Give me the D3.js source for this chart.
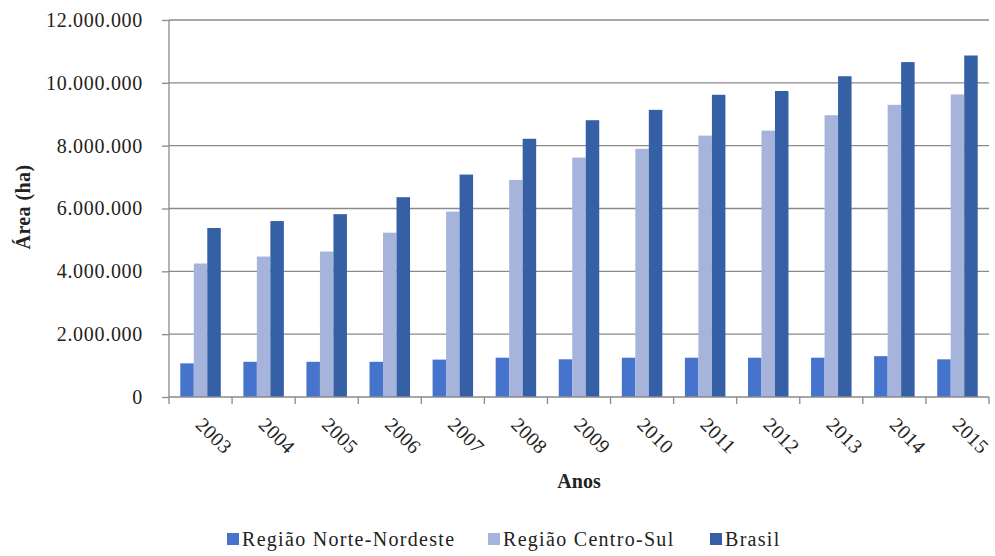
<!DOCTYPE html>
<html>
<head>
<meta charset="utf-8">
<script src="https://cdn.jsdelivr.net/npm/d3@7"></script>
<style>
  body { margin: 0; background: #fff; }
</style>
</head>
<body>
<svg width="995" height="556"></svg>
<script>
// Data
const anos = ["2003", "2004", "2005", "2006", "2007", "2008", "2009", "2010", "2011", "2012", "2013", "2014", "2015"];
const norteNordeste = [1070000, 1120000, 1120000, 1120000, 1190000, 1250000, 1200000, 1250000, 1250000, 1250000, 1250000, 1300000, 1200000];
const centroSul = [4250000, 4470000, 4630000, 5230000, 5900000, 6910000, 7620000, 7900000, 8320000, 8480000, 8970000, 9300000, 9630000];
const brasil = [5380000, 5600000, 5820000, 6360000, 7080000, 8220000, 8810000, 9140000, 9620000, 9740000, 10210000, 10660000, 10870000];
const seriesNames = ["Região Norte-Nordeste", "Região Centro-Sul", "Brasil"];
const seriesColors = ["#4673cb", "#a6b4dc", "#3560a6"];
const yTicks = [0, 2000000, 4000000, 6000000, 8000000, 10000000, 12000000];

const svg = d3.select("svg");
const mLeft = 169, mRight = 989, mTop = 20, mBottom = 397;
const serif = "Liberation Serif, DejaVu Serif, serif";

const ptBR = d3.formatLocale({decimal: ",", thousands: ".", grouping: [3], currency: ["R$", ""]});
const fmt = ptBR.format(",");

const x = d3.scaleBand()
    .domain(anos)
    .range([mLeft, mRight])
    .paddingInner(0.358)
    .paddingOuter(0.179);

const xSub = d3.scaleBand()
    .domain(seriesNames)
    .range([0, x.bandwidth()]);

const y = d3.scaleLinear()
    .domain([0, 12000000])
    .range([mBottom, mTop]);

const grey = "#8a8a8a";

// gridlines
svg.append("g")
    .selectAll("line")
    .data(yTicks.filter(d => d > 0))
    .join("line")
    .attr("x1", mLeft)
    .attr("x2", mRight)
    .attr("y1", d => y(d))
    .attr("y2", d => y(d))
    .attr("stroke", grey)
    .attr("stroke-width", 1.3);

// bars
const rows = anos.map((a, i) => ({ano: a, vals: [norteNordeste[i], centroSul[i], brasil[i]]}));
svg.append("g")
    .selectAll("g")
    .data(rows)
    .join("g")
    .attr("transform", d => "translate(" + x(d.ano) + ",0)")
    .selectAll("rect")
    .data(d => d.vals.map((v, k) => ({name: seriesNames[k], v: v, k: k})))
    .join("rect")
    .attr("x", d => xSub(d.name))
    .attr("width", xSub.bandwidth())
    .attr("y", d => y(d.v))
    .attr("height", d => mBottom - y(d.v))
    .attr("fill", d => seriesColors[d.k]);

// y axis
const yAxis = svg.append("g")
    .attr("transform", "translate(" + mLeft + ",0)")
    .call(d3.axisLeft(y).tickValues(yTicks).tickFormat(fmt).tickSize(7).tickPadding(19))
    .attr("font-family", null)
    .attr("font-size", null);
yAxis.selectAll("line, path").attr("stroke", grey).attr("stroke-width", 1.3);
yAxis.select(".domain").attr("d", "M0," + mTop + "V" + mBottom);
yAxis.selectAll("text")
    .style("font-family", serif)
    .style("font-size", "20px")
    .attr("letter-spacing", 0.7)
    .attr("fill", "#222");

// x axis: baseline and tick marks at category boundaries
const bounds = d3.range(anos.length + 1).map(i => mLeft + i * x.step());
svg.append("line")
    .attr("x1", mLeft).attr("x2", mRight)
    .attr("y1", mBottom).attr("y2", mBottom)
    .attr("stroke", grey).attr("stroke-width", 1.3);
svg.append("g")
    .selectAll("line")
    .data(bounds)
    .join("line")
    .attr("x1", d => d).attr("x2", d => d)
    .attr("y1", mBottom).attr("y2", mBottom + 7)
    .attr("stroke", grey).attr("stroke-width", 1.3);

// rotated year labels
svg.append("g")
    .selectAll("text")
    .data(anos)
    .join("text")
    .attr("transform", d => "translate(" + (x(d) + x.bandwidth() / 2 - 6) + "," + (mBottom + 29) + ") rotate(45)")
    .style("font-family", serif)
    .style("font-size", "20px")
    .attr("letter-spacing", 0.3)
    .attr("fill", "#222")
    .text(d => d);

// axis titles
svg.append("text")
    .attr("transform", "translate(30,207) rotate(-90)")
    .attr("text-anchor", "middle")
    .style("font-family", serif)
    .style("font-size", "20px")
    .style("font-weight", "bold")
    .attr("letter-spacing", 0.4)
    .attr("fill", "#222")
    .text("Área (ha)");

svg.append("text")
    .attr("x", 579)
    .attr("y", 488)
    .attr("text-anchor", "middle")
    .style("font-family", serif)
    .style("font-size", "20px")
    .style("font-weight", "bold")
    .attr("fill", "#222")
    .text("Anos");

// legend
const legendX = [227, 488, 710];
const lg = svg.append("g")
    .selectAll("g")
    .data(seriesNames)
    .join("g")
    .attr("transform", (d, i) => "translate(" + legendX[i] + ",533)");
lg.append("rect")
    .attr("width", 12).attr("height", 12)
    .attr("fill", (d, i) => seriesColors[i]);
lg.append("text")
    .attr("x", 15)
    .attr("y", 13)
    .style("font-family", serif)
    .style("font-size", "20px")
    .attr("letter-spacing", 1.3)
    .attr("fill", "#222")
    .text(d => d);
</script>
</body>
</html>
